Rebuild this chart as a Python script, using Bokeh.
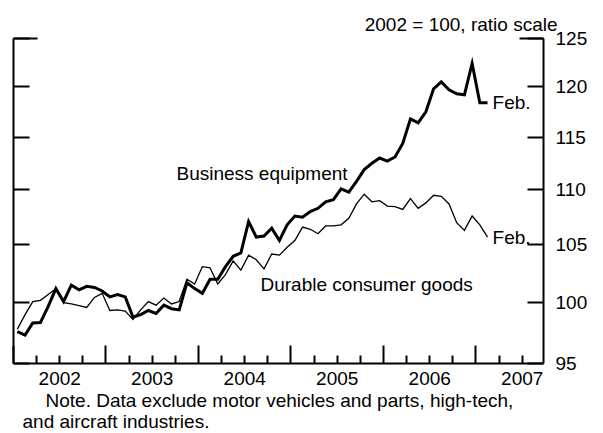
import math
import pandas as pd
from bokeh.plotting import figure
from bokeh.models import FixedTicker, LogAxis, LinearAxis, Label, PrintfTickFormatter, ColumnDataSource, Title
from bokeh.embed import file_html
from bokeh.resources import INLINE

# ---------------- data ----------------
months = pd.date_range("2002-01-01", "2007-02-01", freq="MS")

business = [
    97.6, 97.3, 98.3, 98.35, 99.7, 101.2, 100.1, 101.5, 101.1, 101.4, 101.3, 101.0,   # 2002
    100.5, 100.7, 100.5, 98.8, 99.0, 99.35, 99.1, 99.8, 99.5, 99.4, 101.7, 101.2,      # 2003
    100.8, 102.0, 102.0, 103.1, 104.0, 104.3, 107.1, 105.7, 105.8, 106.5, 105.4, 106.8, # 2004
    107.6, 107.5, 108.0, 108.3, 108.9, 109.1, 110.1, 109.8, 110.8, 111.9, 112.5, 113.0, # 2005
    112.7, 113.1, 114.4, 116.8, 116.4, 117.5, 119.8, 120.5, 119.7, 119.3, 119.2, 122.4, # 2006
    118.4, 118.4,                                                                       # 2007
]
durable = [
    97.8, 99.0, 100.1, 100.2, 100.7, 101.2, 100.0, 99.9, 99.75, 99.6, 100.45, 100.8,  # 2002
    99.35, 99.4, 99.3, 98.6, 99.4, 100.1, 99.8, 100.4, 99.9, 100.1, 102.0, 101.6,     # 2003
    103.1, 103.0, 101.6, 102.4, 103.6, 102.8, 104.1, 103.7, 102.9, 104.2, 104.1, 104.8, # 2004
    105.4, 106.6, 106.4, 106.0, 106.7, 106.7, 106.8, 107.4, 108.7, 109.6, 108.9, 109.0, # 2005
    108.5, 108.45, 108.2, 109.2, 108.3, 108.8, 109.5, 109.4, 108.7, 107.0, 106.3, 107.6, # 2006
    106.8, 105.7,                                                                       # 2007
]
years = [2002, 2003, 2004, 2005, 2006, 2007]
year_labels = ["2002", "2003", "2004", "2005", "2006", "2007"]
y_ticks = [95, 100, 105, 110, 115, 120, 125]
top_tick = [125]
series_names = ["Business equipment", "Durable consumer goods"]
end_label = "Feb."
units_note = "2002 = 100, ratio scale"
note_lines = ["Note. Data exclude motor vehicles and parts, high-tech,",
              "and aircraft industries."]

# ---------------- layout constants ----------------
FONT = "Liberation Sans"
FS = "19px"
X0, X1 = 2002.0, 2007.73
Y0, Y1 = 95.0, 125.0
FRAME_W, FRAME_H = 530, 325
LEFT, TOP, RIGHT, BOTTOM = 13, 38, 55, 69

def px_to_x(px):  # px relative to frame left
    return X0 + (X1 - X0) * px / FRAME_W

def px_to_y(py):  # py relative to frame top (down positive)
    return math.exp(math.log(Y1) - (math.log(Y1) - math.log(Y0)) * py / FRAME_H)

xs = [d.year + (d.month - 0.5) / 12 for d in months]
src = ColumnDataSource(dict(x=xs, b=business, d=durable))

p = figure(width=LEFT + FRAME_W + RIGHT, height=TOP + FRAME_H + BOTTOM,
           output_backend="svg", toolbar_location=None,
           y_axis_type="log", x_range=(X0, X1), y_range=(Y0, Y1),
           min_border_left=LEFT, min_border_right=RIGHT,
           min_border_top=TOP, min_border_bottom=BOTTOM)
p.outline_line_color = None
p.xgrid.visible = False
p.ygrid.visible = False
p.background_fill_color = "white"
p.border_fill_color = "white"

# units note above the frame
p.add_layout(Title(text=units_note, align="right", offset=-14, standoff=7,
                   text_font=FONT, text_font_size=FS, text_font_style="normal",
                   text_color="black"), "above")

# left axis: ticks only
ly = p.yaxis[0]
ly.ticker = FixedTicker(ticks=y_ticks)
ly.major_label_overrides = {t: "" for t in y_ticks}
ly.major_label_standoff = 0
ly.major_tick_in = 16
ly.major_tick_out = 0
ly.minor_tick_line_color = None
ly.axis_line_width = 2
ly.major_tick_line_width = 2

# longer corner ticks at the top (left side)
cl = LogAxis(ticker=FixedTicker(ticks=top_tick), major_label_overrides={t: "" for t in top_tick},
             major_label_standoff=0, major_tick_in=24, major_tick_out=0,
             axis_line_color=None, minor_tick_line_color=None, major_tick_line_width=2)
p.add_layout(cl, "left")

# longer corner tick at the top (right side), closest to frame
cr = LogAxis(ticker=FixedTicker(ticks=top_tick), major_label_overrides={t: "" for t in top_tick},
             major_label_standoff=0, major_tick_in=24, major_tick_out=0,
             axis_line_color=None, minor_tick_line_color=None, major_tick_line_width=2)
p.add_layout(cr, "right")

# right axis with labels
ry = LogAxis(ticker=FixedTicker(ticks=y_ticks), formatter=PrintfTickFormatter(format="%d"),
             major_tick_in=16, major_tick_out=0, minor_tick_line_color=None,
             axis_line_width=2, major_tick_line_width=2, major_label_standoff=12,
             major_label_text_font=FONT, major_label_text_font_size=FS,
             major_label_text_color="black")
p.add_layout(ry, "right")

# bottom axis: year and quarter ticks
bx = p.xaxis[0]
quarters = [y + q / 4 for y in years for q in range(1, 4)]
bx.ticker = FixedTicker(ticks=years, minor_ticks=quarters)
bx.major_label_overrides = {y: "" for y in years}
bx.major_label_standoff = 0
bx.major_tick_in = 18
bx.major_tick_out = 0
bx.minor_tick_in = 8
bx.minor_tick_out = 0
bx.axis_line_width = 2
bx.major_tick_line_width = 2
bx.minor_tick_line_width = 2

# bottom axis: year labels at mid-year
mid = [y + 0.5 for y in years]
lx = LinearAxis(ticker=FixedTicker(ticks=mid),
                major_label_overrides={m: s for m, s in zip(mid, year_labels)},
                axis_line_color=None, major_tick_line_color=None, minor_tick_line_color=None,
                major_label_standoff=2, major_label_text_font=FONT, major_label_text_font_size=FS,
                major_label_text_color="black")
p.add_layout(lx, "below")

# note lines below
p.add_layout(Title(text=note_lines[0], align="left", offset=32, standoff=0,
                   text_font=FONT, text_font_size=FS, text_font_style="normal",
                   text_color="black"), "below")
p.add_layout(Title(text=note_lines[1], align="left", offset=9, standoff=-3,
                   text_font=FONT, text_font_size=FS, text_font_style="normal",
                   text_color="black"), "below")

# series
p.line("x", "b", source=src, line_width=3, line_color="black", line_join="miter")
p.line("x", "d", source=src, line_width=1.3, line_color="black", line_join="miter")

def lab(x, y, text, align="left", x_offset=0):
    p.add_layout(Label(x=x, y=y, text=text, text_font=FONT, text_font_size=FS,
                       text_align=align, text_baseline="middle", x_offset=x_offset,
                       text_color="black"))

lab(xs[-1], business[-1], end_label, x_offset=5)
lab(xs[-1], durable[-1], end_label, x_offset=5)
lab(px_to_x(163), px_to_y(135), series_names[0])
lab(px_to_x(247), px_to_y(246), series_names[1])

open("out.html", "w").write(file_html(p, INLINE))
